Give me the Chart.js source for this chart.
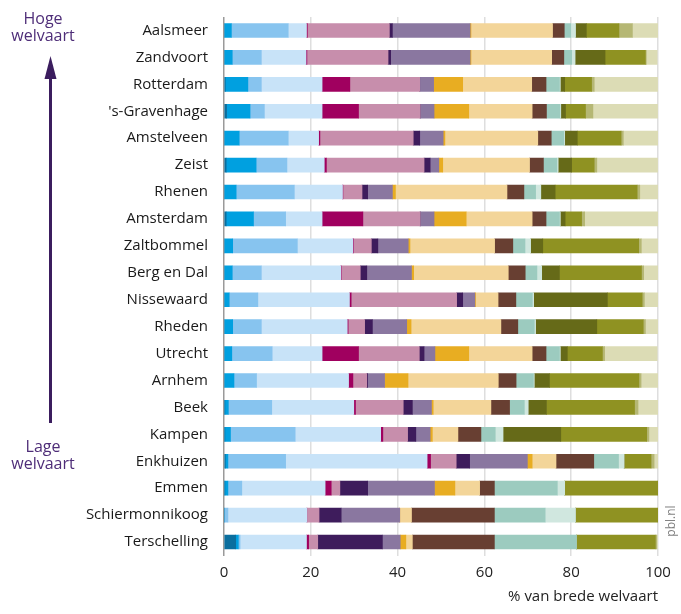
<!DOCTYPE html>
<html>
<head>
<meta charset="utf-8">
<script src="https://cdn.jsdelivr.net/npm/chart.js@4"></script>
<style>
    html, body { margin: 0; padding: 0; background: #fff; }
    #wrap { width: 681px; height: 614px; }
</style>
</head>
<body>
<div id="wrap"><canvas id="welvaart-chart"></canvas></div>
<script>
    "use strict";

    // Data
    var gemeenten = ["Aalsmeer", "Zandvoort", "Rotterdam", "'s-Gravenhage", "Amstelveen", "Zeist", "Rhenen", "Amsterdam", "Zaltbommel", "Berg en Dal", "Nissewaard", "Rheden", "Utrecht", "Arnhem", "Beek", "Kampen", "Enkhuizen", "Emmen", "Schiermonnikoog", "Terschelling"];
    var xTicks = [0, 20, 40, 60, 80, 100];

    var donkerblauw = [0, 0, 0.3, 0.6, 0, 0.5, 0, 0.5, 0, 0, 0, 0, 0, 0, 0.2, 0.2, 0.3, 0.2, 0, 2.7];
    var blauw = [1.7, 1.9, 5.2, 5.4, 3.5, 6.9, 2.8, 6.3, 2.0, 1.9, 1.2, 2.0, 1.8, 2.3, 0.8, 1.3, 0.6, 0.7, 0, 0.6];
    var lichtblauw = [13.1, 6.7, 3.1, 3.3, 11.3, 7.1, 13.4, 7.4, 14.9, 6.7, 6.6, 6.6, 9.3, 5.2, 10.0, 14.9, 13.3, 3.2, 0.9, 0.4];
    var ijsblauw = [4.2, 10.3, 14.0, 13.3, 7.0, 8.6, 11.1, 8.4, 12.8, 18.3, 21.1, 19.8, 11.5, 21.2, 18.9, 19.7, 32.6, 19.2, 18.2, 15.3];
    var magenta = [0.2, 0.2, 6.4, 8.4, 0.3, 0.5, 0.1, 9.4, 0.15, 0.1, 0.4, 0.2, 8.4, 1.0, 0.4, 0.5, 0.8, 1.4, 0, 0.5];
    var roze = [18.9, 18.7, 16.1, 14.2, 21.5, 22.5, 4.4, 13.2, 4.1, 4.4, 24.3, 3.8, 14.0, 3.2, 11.0, 5.7, 5.9, 2.0, 2.8, 2.1];
    var donkerpaars = [0.7, 0.6, 0, 0, 1.5, 1.4, 1.3, 0, 1.5, 1.5, 1.4, 1.8, 1.1, 0.2, 2.1, 1.9, 3.1, 6.4, 5.1, 14.9];
    var paars = [17.9, 18.3, 3.2, 3.2, 5.4, 2.0, 5.7, 3.2, 7.0, 10.3, 2.8, 7.9, 2.5, 3.9, 4.4, 3.3, 13.3, 15.4, 13.5, 4.1];
    var oranje = [0.2, 0.2, 6.7, 8.0, 0.4, 0.9, 0.7, 7.4, 0.4, 0.5, 0.15, 1.0, 7.8, 5.4, 0.4, 0.5, 1.1, 4.7, 0, 1.3];
    var geel = [18.8, 18.6, 15.9, 14.6, 21.4, 20.0, 25.7, 15.2, 19.5, 21.8, 5.2, 20.7, 14.6, 20.8, 13.3, 5.9, 5.5, 5.7, 2.7, 1.5];
    var bruin = [2.7, 2.8, 3.3, 3.3, 3.1, 3.2, 3.9, 3.2, 4.2, 3.9, 4.1, 3.9, 3.2, 4.1, 4.3, 5.3, 8.7, 3.4, 19.1, 18.9];
    var mintgroen = [1.5, 1.8, 3.1, 3.1, 2.9, 3.1, 2.7, 3.1, 2.8, 2.7, 3.8, 3.8, 3.1, 4.0, 3.4, 3.3, 5.7, 14.5, 11.7, 18.9];
    var lichtmint = [1.1, 0.8, 0.2, 0.2, 0.2, 0.3, 1.2, 0.2, 1.3, 1.1, 0.3, 0.3, 0.2, 0.2, 0.9, 1.8, 1.3, 1.7, 7.0, 0];
    var donkergroen = [2.5, 6.9, 1.0, 1.1, 2.9, 3.1, 3.3, 1.1, 2.8, 4.1, 17.0, 14.1, 1.6, 3.5, 4.2, 13.3, 0, 0, 0, 0];
    var groen = [7.5, 9.3, 6.2, 4.6, 10.1, 5.2, 18.9, 3.8, 22.1, 18.9, 8.0, 10.7, 8.1, 20.6, 20.3, 19.8, 6.2, 21.5, 19.0, 18.2];
    var lichtgroen = [3.1, 0.2, 0.6, 1.7, 0.5, 0.6, 0.6, 0.7, 0.6, 0.5, 0.5, 0.5, 0.5, 0.5, 0.8, 0.5, 0.7, 0, 0, 0.3];
    var creme = [5.9, 2.5, 14.6, 14.9, 8.0, 14.0, 4.2, 16.9, 3.8, 3.3, 3.1, 2.9, 12.1, 3.9, 4.6, 2.1, 1.0, 0, 0, 0.2];

    var series = [
        ["donkerblauw", donkerblauw, "#0a6e9e"],
        ["blauw", blauw, "#00a0e0"],
        ["lichtblauw", lichtblauw, "#87c4ef"],
        ["ijsblauw", ijsblauw, "#c8e3f8"],
        ["magenta", magenta, "#a0005f"],
        ["roze", roze, "#c78eac"],
        ["donkerpaars", donkerpaars, "#3e1c5c"],
        ["paars", paars, "#8a77a0"],
        ["oranje", oranje, "#e8ad22"],
        ["geel", geel, "#f3d599"],
        ["bruin", bruin, "#683f32"],
        ["mintgroen", mintgroen, "#9ccbbf"],
        ["lichtmint", lichtmint, "#d0e7df"],
        ["donkergroen", donkergroen, "#666a18"],
        ["groen", groen, "#8f9222"],
        ["lichtgroen", lichtgroen, "#b5b774"],
        ["creme", creme, "#dcdcb5"]
    ];

    var fontName = "'Open Sans', 'DejaVu Sans', sans-serif";


    // Arrow and side texts
    var sideNotes = {
        id: "sideNotes",
        afterDraw: function (chart) {
            var ctx = chart.ctx;
            ctx.save();

            // arrow
            ctx.strokeStyle = "#3b1d5e";
            ctx.fillStyle = "#3b1d5e";
            ctx.lineWidth = 3;
            ctx.beginPath();
            ctx.moveTo(50.5, 423);
            ctx.lineTo(50.5, 76);
            ctx.stroke();
            ctx.beginPath();
            ctx.moveTo(50.5, 56);
            ctx.lineTo(56.5, 79);
            ctx.lineTo(44.5, 79);
            ctx.closePath();
            ctx.fill();

            // labels
            ctx.fillStyle = "#4e2d78";
            ctx.font = "16px " + fontName;
            ctx.textAlign = "center";
            ctx.textBaseline = "middle";
            ctx.fillText("Hoge", 43, 19);
            ctx.fillText("welvaart", 43, 36);
            ctx.fillText("Lage", 43, 447);
            ctx.fillText("welvaart", 43, 464);

            // source
            ctx.translate(672, 521);
            ctx.rotate(-Math.PI / 2);
            ctx.fillStyle = "#808080";
            ctx.font = "12px " + fontName;
            ctx.fillText("pbl.nl", 0, 0);
            ctx.restore();
        }
    };


    // Stacked bar chart
    var ctx1 = document.getElementById("welvaart-chart").getContext("2d");
    var myChart1 = new Chart(ctx1, {
        type: "bar",
        data: {
            labels: gemeenten,
            datasets: series.map(function (s) {
                return {
                    label: s[0],
                    data: s[1],
                    backgroundColor: s[2],
                    borderWidth: 0,
                    barThickness: 14
                };
            })
        },
        options: {
            indexAxis: "y",
            responsive: true,
            maintainAspectRatio: false,
            animation: false,
            layout: {
                padding: {top: 10, right: 23, bottom: 0, left: 0}
            },
            plugins: {
                legend: {display: false},
                tooltip: {enabled: false}
            },
            scales: {
                x: {
                    stacked: true,
                    min: 0,
                    max: 100,
                    afterBuildTicks: function (scale) {
                        scale.ticks = xTicks.map(function (v) { return {value: v}; });
                    },
                    afterFit: function (scale) {
                        scale.height = 58.5;
                    },
                    grid: {
                        drawTicks: false,
                        lineWidth: 1.5,
                        color: function (c) {
                            return c.tick && c.tick.value === 0 ? "#9a9a9a" : "#dedede";
                        }
                    },
                    border: {display: false},
                    ticks: {
                        padding: 8,
                        color: "#222",
                        font: {family: fontName, size: 15}
                    },
                    title: {
                        display: true,
                        text: "% van brede welvaart",
                        align: "end",
                        color: "#222",
                        font: {family: fontName, size: 15},
                        padding: {top: 0, bottom: 8}
                    }
                },
                y: {
                    stacked: true,
                    afterFit: function (scale) {
                        scale.width = 224;
                    },
                    grid: {display: false},
                    border: {display: false},
                    ticks: {
                        padding: 8,
                        color: "#1a1a1a",
                        font: {family: fontName, size: 15}
                    }
                }
            }
        },
        plugins: [sideNotes]
    });
</script>
</body>
</html>
